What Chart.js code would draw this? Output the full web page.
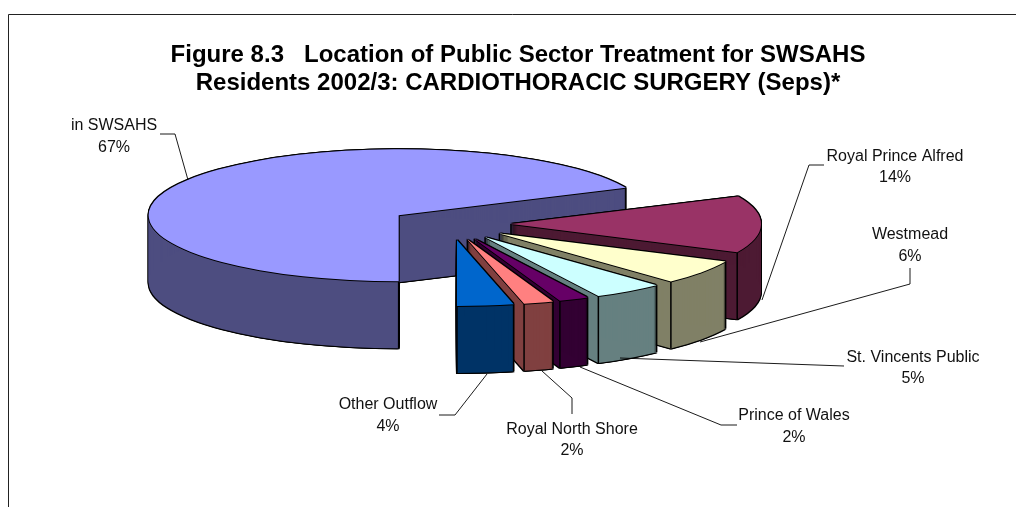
<!DOCTYPE html>
<html>
<head>
<meta charset="utf-8">
<style>
html,body{margin:0;padding:0;background:#fff;overflow:hidden}
canvas{display:block}
</style>
<script src="https://cdn.jsdelivr.net/npm/chart.js@4"></script>
</head>
<body>
<canvas id="c" width="1016" height="507"></canvas>
<script>
const categories = ['in SWSAHS','Royal Prince Alfred','Westmead','St. Vincents Public','Prince of Wales','Royal North Shore','Other Outflow'];
const shares = [67.4,13.7,5.9,4.5,1.9,1.9,3.6];
const shareLabels = ['67%','14%','6%','5%','2%','2%','4%'];
const topColours = ['#9999FF','#993366','#FFFFCC','#CCFFFF','#660066','#FF8080','#0066CC'];
const sideColours = ['#4D4D80','#4D1A33','#808066','#668080','#330033','#804040','#003366'];
const titleLines = ['Figure 8.3   Location of Public Sector Treatment for SWSAHS','Residents 2002/3: CARDIOTHORACIC SURGERY (Seps)*'];
// label anchor (centre x, first line y, second line y)
const labelAnchors = [[114,126,148],[895,157,178],[910,235,257],[913,358,379],[794,416,438],[572,430,451],[388,405,427]];
// leader polylines
const leaders = [
 [[160,134],[175,134],[188,180]],
 [[824,165],[809,165],[762,300]],
 [[910,268],[910,284],[700,342]],
 [[844,366],[620,358]],
 [[737,425],[721,425],[580,367]],
 [[572,414],[572,398],[542,371]],
 [[439,415],[455,415],[487,374]]
];
const pieCentre = {x:450,y:224};
const squash = 0.264, depth = 67, lineW = 1;

const pie3d = {
  id:'pie3d',
  beforeDatasetsDraw(chart){
    const ctx = chart.ctx, arcs = chart.getDatasetMeta(0).data;
    ctx.save();ctx.strokeStyle='#222';ctx.lineWidth=1;ctx.beginPath();
    ctx.moveTo(8.5,507);ctx.lineTo(8.5,14.5);ctx.lineTo(1016,14.5);ctx.stroke();ctx.restore();
    arcs.forEach((arc,i)=>{
      const off = arc.options.offset, R = arc.outerRadius;
      const mid = arc.startAngle+arc.circumference/2;
      const ox = Math.cos(mid)*off, oy = Math.sin(mid)*off*squash;
      const paint = (colour,dx,dy)=>{
        const clone = Object.create(arc);
        clone.options = Object.assign({},arc.options,{backgroundColor:colour,borderWidth:0,offset:0});
        ctx.save();
        ctx.translate(pieCentre.x+ox+dx,pieCentre.y+oy+dy);
        ctx.scale(1,squash);
        ctx.translate(-arc.x,-arc.y);
        clone.draw(ctx);
        ctx.restore();
      };
      // outline of the extruded body
      for(let k=-lineW;k<=depth+lineW;k+=1){
        paint('#000',-lineW,k);paint('#000',lineW,k);
      }
      paint('#000',0,depth+lineW);
      for(let k=0;k<=depth;k+=1) paint(sideColours[i],0,k);
      // vertical edges
      const ax = pieCentre.x+ox, ay = pieCentre.y+oy;
      const pt = a=>[ax+Math.cos(a)*R, ay+Math.sin(a)*R*squash];
      const ss = Math.sin(arc.startAngle+Math.PI/2), se = Math.sin(arc.endAngle+Math.PI/2);
      const cs = Math.cos(arc.startAngle+Math.PI/2), ce = Math.cos(arc.endAngle+Math.PI/2);
      const edges = [];
      if(ss<0||se>0) edges.push([ax,ay]);
      if(ss<0||cs<0) edges.push(pt(arc.startAngle));
      if(se>0||ce<0) edges.push(pt(arc.endAngle));
      ctx.save();ctx.strokeStyle='#000';ctx.lineWidth=1.5;
      edges.forEach(p=>{ctx.beginPath();ctx.moveTo(p[0],p[1]);ctx.lineTo(p[0],p[1]+depth);ctx.stroke();});
      ctx.restore();
      // top face
      paint('#000',-lineW,0);paint('#000',lineW,0);paint('#000',0,-lineW);paint('#000',0,lineW);
      paint(topColours[i],0,0);
    });
    // leaders
    ctx.save();ctx.strokeStyle='#000';ctx.lineWidth=0.9;
    leaders.forEach(l=>{ctx.beginPath();l.forEach((p,j)=>j?ctx.lineTo(p[0],p[1]):ctx.moveTo(p[0],p[1]));ctx.stroke();});
    ctx.restore();
    // labels
    ctx.save();ctx.fillStyle='#111';ctx.textAlign='center';ctx.textBaseline='middle';
    ctx.font='16px "Liberation Sans", Arial, sans-serif';
    categories.forEach((c,i)=>{
      const a = labelAnchors[i];
      ctx.fillText(c,a[0],a[1]);
      ctx.fillText(shareLabels[i],a[0],a[2]);
    });
    ctx.restore();
    return false;
  }
};

new Chart(document.getElementById('c'),{
  type:'pie',
  data:{labels:categories,datasets:[{data:shares,backgroundColor:topColours,borderWidth:0,offset:61}]},
  options:{
    responsive:false,
    animation:false,
    rotation:180,
    radius:250,
    layout:{padding:{left:20}},
    plugins:{
      legend:{display:false},
      tooltip:{enabled:false},
      title:{display:true,text:titleLines,color:'#000',
        font:{family:'"Liberation Sans", Arial, sans-serif',size:24,weight:'bold',lineHeight:1.19},
        padding:{top:41,bottom:10}}
    }
  },
  plugins:[pie3d]
});
</script>
</body>
</html>
